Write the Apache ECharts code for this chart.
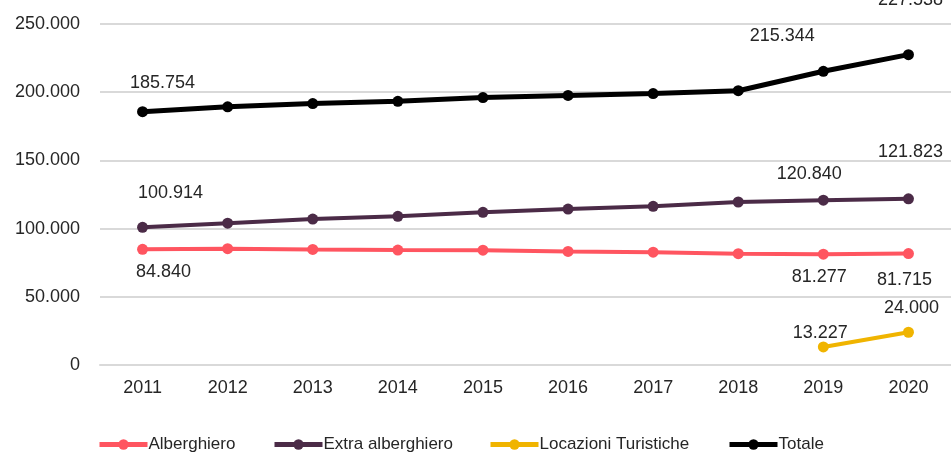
<!DOCTYPE html>
<html>
<head>
<meta charset="utf-8">
<script src="https://cdn.jsdelivr.net/npm/echarts@6/dist/echarts.min.js"></script>
<style>html,body{margin:0;padding:0;background:#fff}#c{width:951px;height:455px}</style>
</head>
<body>
<div id="c"></div>
<script>
const years = ['2011','2012','2013','2014','2015','2016','2017','2018','2019','2020'];
const alberghiero = [84840, 85300, 84700, 84300, 84200, 83300, 82700, 81600, 81277, 81715];
const extraAlberghiero = [100914, 104000, 107000, 109000, 111900, 114300, 116300, 119500, 120840, 121823];
const locazioniTuristiche = [null, null, null, null, null, null, null, null, 13227, 24000];
const totale = [185754, 189300, 191700, 193300, 196100, 197600, 199000, 201100, 215344, 227538];
const yMin = 0, yMax = 250000, yInterval = 50000;

const FONT = '"Liberation Sans", Arial, sans-serif';
const FS = 18;
const TXT = '#262626';

function fmt(v) {
  return String(Math.round(v)).replace(/\B(?=(\d{3})+(?!\d))/g, '.');
}

// label offsets (style only)
const labelSpec = {
  'Alberghiero': {0: [21, 23], 8: [-4, 23], 9: [-4, 26]},
  'Extra alberghiero': {0: [28, -34], 8: [-14, -26], 9: [2, -47]},
  'Locazioni Turistiche': {8: [-3, -14], 9: [3, -24]},
  'Totale': {0: [20, -29], 8: [-41, -35], 9: [2, -55]}
};

function build(name, values) {
  const spec = labelSpec[name] || {};
  return values.map((v, i) => {
    if (spec[i] && v != null) {
      return {value: v, label: {show: true, position: 'inside', offset: spec[i],
        formatter: p => fmt(p.value), color: TXT, fontFamily: FONT, fontSize: FS}};
    }
    return v;
  });
}

const seriesDefs = [
  {name: 'Alberghiero', data: alberghiero, color: '#FF5560', width: 4},
  {name: 'Extra alberghiero', data: extraAlberghiero, color: '#4B2B47', width: 4},
  {name: 'Locazioni Turistiche', data: locazioniTuristiche, color: '#F0B400', width: 4},
  {name: 'Totale', data: totale, color: '#000000', width: 5}
];
const legendLeft = [97, 272, 488, 727];

const chart = echarts.init(document.getElementById('c'), null, {renderer: 'canvas'});
chart.setOption({
  animation: false,
  grid: {left: 100, right: 0, top: 24, bottom: 90, containLabel: false},
  xAxis: {
    type: 'category', data: years, boundaryGap: true,
    axisLine: {show: true, lineStyle: {color: '#D9D9D9', width: 2}},
    axisTick: {show: false},
    axisLabel: {color: TXT, fontFamily: FONT, fontSize: FS, margin: 14}
  },
  yAxis: {
    type: 'value', min: yMin, max: yMax, interval: yInterval,
    axisLine: {show: false}, axisTick: {show: false},
    splitLine: {lineStyle: {color: '#D9D9D9', width: 2}},
    axisLabel: {color: TXT, fontFamily: FONT, fontSize: FS, margin: 20, formatter: v => fmt(v)}
  },
  legend: seriesDefs.map((s, i) => ({
    data: [s.name], left: legendLeft[i], top: 436, padding: 0,
    itemWidth: 48, itemHeight: 13, itemGap: 0,
    lineStyle: {width: 5},
    textStyle: {color: TXT, fontFamily: FONT, fontSize: 17, padding: [0, 0, 0, -4]}
  })),
  series: seriesDefs.map(s => ({
    name: s.name, type: 'line', data: build(s.name, s.data),
    symbol: 'circle', symbolSize: 11, showAllSymbol: true,
    connectNulls: false,
    lineStyle: {color: s.color, width: s.width},
    itemStyle: {color: s.color},
    label: {show: false},
    emphasis: {disabled: true}
  }))
});
</script>
</body>
</html>
